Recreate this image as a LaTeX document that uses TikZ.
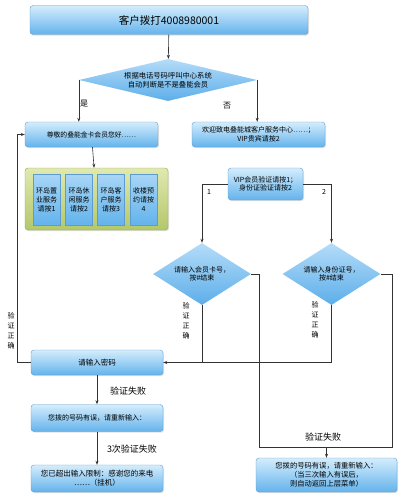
\documentclass[tikz,border=0pt]{standalone}
\usepackage{fontspec}
\setmainfont{Noto Sans CJK SC}
\usetikzlibrary{shapes.geometric,shadows,arrows.meta}

\definecolor{boxtop}{HTML}{D4EDFC}
\definecolor{boxbot}{HTML}{64B3EC}
\definecolor{boxline}{HTML}{5E9CCF}
\definecolor{dtop}{HTML}{B4DCF8}
\definecolor{dbot}{HTML}{5DAEEA}
\definecolor{greentop}{HTML}{E0E9B0}
\definecolor{greenbot}{HTML}{B3C76A}
\definecolor{greenline}{HTML}{93A648}

\tikzset{
	bluebox/.style={draw=boxline, line width=0.4pt, rounded corners=3pt, top color=boxtop, bottom color=boxbot,
		drop shadow={shadow xshift=1pt, shadow yshift=-1.2pt, opacity=0.25}, align=center, inner sep=1pt,
		font=\fontsize{7}{8.5}\selectfont},
	choice/.style={diamond, draw=none, top color=dtop, bottom color=dbot, inner sep=0pt, align=center,
		font=\fontsize{7}{8.5}\selectfont},
	menubox/.style={draw=boxline, line width=0.4pt, top color=boxtop!60!boxbot, bottom color=boxbot, align=center,
		inner sep=0pt, minimum width=27pt, minimum height=51pt, font=\fontsize{7}{9}\selectfont},
	flow/.style={draw=black!80, line width=0.6pt},
	go/.style={flow, -{Stealth[length=4pt,width=3pt]}},
	lbl/.style={font=\fontsize{9}{10}\selectfont, inner sep=0pt},
	vlbl/.style={font=\fontsize{7}{10}\selectfont, align=center, inner sep=0pt}
}

\begin{document}
\begin{tikzpicture}[x=1pt,y=-1pt]
	\useasboundingbox (0,0) rectangle (401,500);

	% top part
	\node[bluebox, minimum width=278pt, minimum height=29pt, font=\fontsize{10.5}{12}\selectfont] (call) at (169,20) {客户拨打4008980001};
	\node[choice, minimum width=178pt, minimum height=42pt, aspect=4.2, font=\fontsize{7.3}{9}\selectfont] (member) at (168,80) {根据电话号码呼叫中心系统\\自动判断是不是叠能会员};
	\node[bluebox, minimum width=133pt, minimum height=25pt, font=\fontsize{6.8}{8}\selectfont] (gold) at (91.5,134.5) {尊敬的叠能金卡会员您好……};
	\node[bluebox, minimum width=133pt, minimum height=25pt] (welcome) at (258.5,134.5) {欢迎致电叠能城客户服务中心……；\\VIP贵宾请按2};

	% service menu
	\node[draw=greenline, rounded corners=3pt, top color=greentop, bottom color=greenbot, minimum width=143pt, minimum height=62pt,
		drop shadow={shadow xshift=1pt, shadow yshift=-1.2pt, opacity=0.25}] (menu) at (96.5,199) {};
	\node[menubox] (m1) at (46.5,199.5) {环岛置\\业服务\\请按1};
	\node[menubox] (m2) at (79,199.5) {环岛休\\闲服务\\请按2};
	\node[menubox] (m3) at (111,199.5) {环岛客\\户服务\\请按3};
	\node[menubox] (m4) at (143.5,199.5) {收楼预\\约请按\\4};

	% VIP check
	\node[bluebox, minimum width=75pt, minimum height=32pt] (vip) at (265.5,184) {VIP会员验证请按1；\\身份证验证请按2};
	\node[choice, minimum width=98pt, minimum height=62pt, aspect=1.6] (card) at (202,274) {请输入会员卡号，\\按\#结束};
	\node[choice, minimum width=98pt, minimum height=62pt, aspect=1.6] (idno) at (331.5,274) {请输入身份证号，\\按\#结束};

	% bottom part
	\node[bluebox, minimum width=132pt, minimum height=25pt, font=\fontsize{7.5}{9}\selectfont] (pwd) at (97,362.5) {请输入密码};
	\node[bluebox, minimum width=132pt, minimum height=27pt] (wrong) at (97,418) {您拨的号码有误，请重新输入：};
	\node[bluebox, minimum width=132pt, minimum height=27pt, font=\fontsize{7.5}{9}\selectfont] (hang) at (97,478.5) {您已超出输入限制：感谢您的来电\\……（挂机）};
	\node[bluebox, minimum width=141pt, minimum height=34pt, font=\fontsize{7.3}{9}\selectfont] (back) at (326.5,475) {您拨的号码有误，请重新输入：\\（当三次输入有误后，\\则自动返回上层菜单）};

	\coordinate (loop) at (17,362.5);
	\coordinate (fail1) at (259,447);
	\coordinate (fail2) at (392,447);

	% connectors
	\draw[go] (call) -- (member);
	\draw[go] (member.west) -- (member.west |- gold.north);
	\draw[go] (member.east) -- (member.east |- welcome.north);
	\draw[go] (gold) -- (menu);
	\draw[go] (vip.west) -| (card.north);
	\draw[go] (vip.east) -| (idno.north);
	\draw[flow] (card.south) -- (card.south |- pwd.east);
	\draw[go] (idno.south) |- (pwd.east);
	\draw[go] (pwd.west) -- (loop) |- (gold.west);
	\draw[flow] (card.east) -| (fail1) -- (fail2) |- (idno.east);
	\draw[go] (back.north |- fail1) -- (back.north);
	\draw[go] (pwd) -- (wrong);
	\draw[go] (wrong) -- (hang);

	% labels
	\node[lbl, font=\fontsize{8}{9}\selectfont] (yes) at (84,104) {是};
	\node[lbl, font=\fontsize{8}{9}\selectfont] (no) at (227,106) {否};
	\node[vlbl] (one) at (209,192) {1};
	\node[vlbl] (two) at (324,192) {2};
	\node[vlbl] (ok1) at (186,321) {验\\证\\正\\确};
	\node[vlbl] (ok2) at (315,320) {验\\证\\正\\确};
	\node[vlbl] (ok3) at (11,331) {验\\证\\正\\确};
	\node[lbl] (f1) at (128,391) {验证失败};
	\node[lbl] (f3) at (132,449) {3次验证失败};
	\node[lbl] (f2) at (323,437) {验证失败};
\end{tikzpicture}
\end{document}
